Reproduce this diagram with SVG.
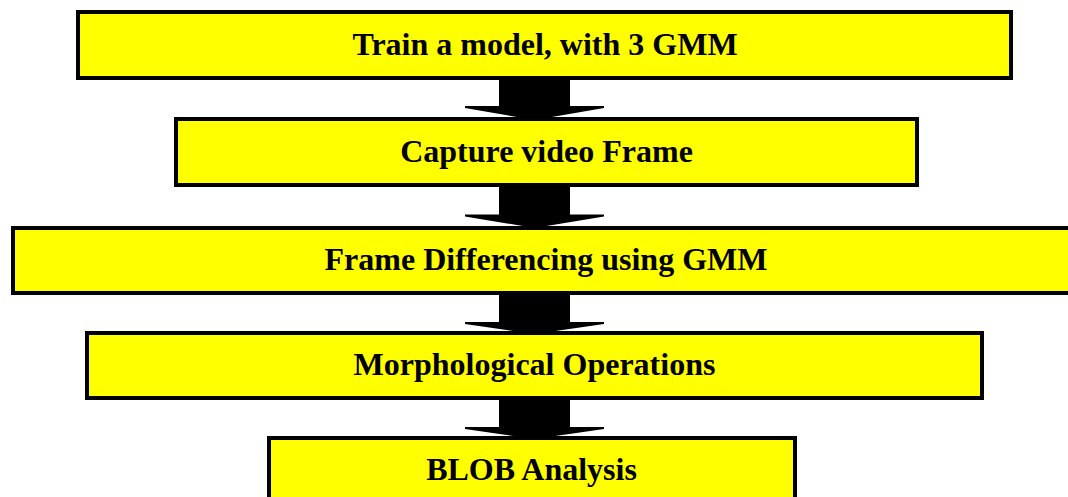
<svg xmlns="http://www.w3.org/2000/svg" width="1068" height="497" viewBox="0 0 1068 497">
<style>
.box{fill:#FFFF00;stroke:#000;stroke-width:4}
.lbl{font-family:"Liberation Serif","Times New Roman",serif;font-weight:bold;font-size:32px;fill:#000;text-anchor:middle}
.arrow{fill:#000;stroke:none}
</style>
<rect width="1068" height="497" fill="#fff"/>
<g id="connectors">
<polygon class="arrow" points="499,76 570,76 570,106 604,106 604,108 534.5,120 465,108 465,106 499,106"/>
<polygon class="arrow" points="499,183 570,183 570,214.5 604,214.5 604,216.5 534.5,228 465,216.5 465,214.5 499,214.5"/>
<polygon class="arrow" points="499,291 570,291 570,322 604,322 604,324 534.5,334 465,324 465,322 499,322"/>
<polygon class="arrow" points="499,396 570,396 570,427 604,427 604,429 534.5,439 465,429 465,427 499,427"/>
</g>
<g id="node1">
<rect class="box" x="78" y="12" width="933" height="66"/>
<text class="lbl" x="545" y="54.5">Train a model, with 3 GMM</text>
</g>
<g id="node2">
<rect class="box" x="176" y="119" width="741" height="66"/>
<text class="lbl" x="546.5" y="162">Capture video Frame</text>
</g>
<g id="node3">
<rect class="box" x="13" y="228" width="1066" height="65"/>
<text class="lbl" x="546" y="269.5">Frame Differencing using GMM</text>
</g>
<g id="node4">
<rect class="box" x="87" y="333" width="895" height="65"/>
<text class="lbl" x="534.5" y="375">Morphological Operations</text>
</g>
<g id="node5">
<rect class="box" x="269" y="438" width="526" height="66"/>
<text class="lbl" x="531.5" y="479.5">BLOB Analysis</text>
</g>
</svg>
